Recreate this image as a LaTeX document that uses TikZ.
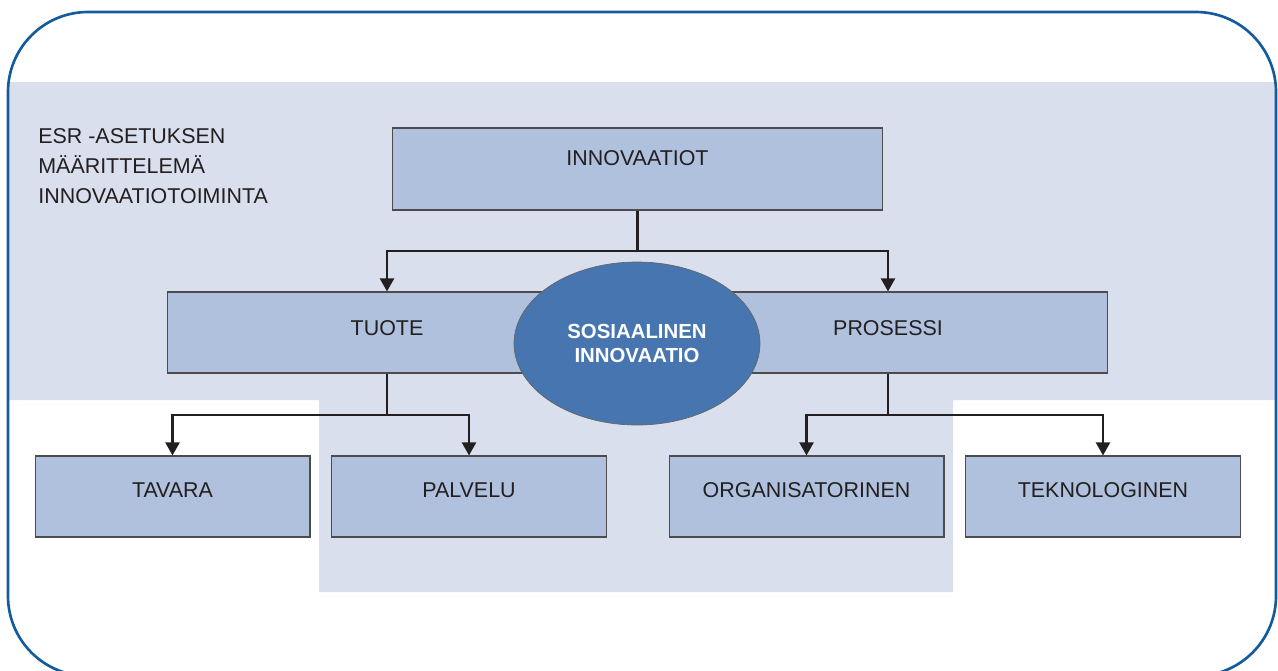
\documentclass[tikz,border=0pt]{standalone}
\usepackage{fontspec}
\setmainfont{Liberation Sans}
\usetikzlibrary{arrows.meta,positioning,shapes.geometric}
\definecolor{bandgrey}{HTML}{DADFED}
\definecolor{boxblue}{HTML}{B0C1DE}
\definecolor{ovalblue}{HTML}{4675B0}
\definecolor{framblue}{HTML}{135A9E}
\definecolor{inkdark}{HTML}{231F20}
\tikzset{
  innobox/.style={draw=black!70,fill=boxblue,line width=0.6pt,align=center,
    minimum width=5.5cm,minimum height=1.62cm,inner sep=0pt,
    font=\fontsize{12.2}{14}\selectfont,text=inkdark,text height=8.7pt,text depth=7.4pt},
  ovalnode/.style={ellipse,draw=black!60,fill=ovalblue,line width=0.4pt,align=center,
    minimum width=4.92cm,minimum height=3.26cm,inner sep=0pt,
    font=\fontsize{11.6}{14.2}\selectfont\bfseries,text=white},
  linkarrow/.style={-{Triangle[length=7.5pt,width=8pt]},line width=1.4pt,draw=inkdark},
  sidelabel/.style={font=\fontsize{12.2}{17}\selectfont,align=left,text=inkdark,
    anchor=north west,inner sep=0pt}
}
\begin{document}
\begin{tikzpicture}[x=0.02cm,y=-0.02cm]
  \useasboundingbox (0,0) rectangle (1278,670);
  % taustavyohyke
  \fill[bandgrey] (8,82) -- (1276,82) -- (1276,400) -- (953,400) -- (953,592)
    -- (319,592) -- (319,400) -- (8,400) -- cycle;
  \draw[framblue,line width=1.5pt,rounded corners=1.6cm] (8,12) rectangle (1276,676);

  \node[sidelabel] (esrlabel) at (38,128)
    {ESR -ASETUKSEN\\MÄÄRITTELEMÄ\\INNOVAATIOTOIMINTA};

  \node[innobox,minimum width=9.82cm,minimum height=1.64cm,text depth=12.5pt] (innov) at (637.5,169) {INNOVAATIOT};
  \node[innobox,minimum width=8.8cm,text depth=5pt] (tuote) at (387,332.5) {TUOTE};
  \node[innobox,minimum width=8.8cm,text depth=5pt] (prosessi) at (888,332.5) {PROSESSI};
  \node[ovalnode] (sosinno) at (637,343.5) {SOSIAALINEN\\INNOVAATIO};

  \node[innobox] (tavara) at (172.5,496.5) {TAVARA};
  \node[innobox] (palvelu) at (469,496.5) {PALVELU};
  \node[innobox] (organ) at (806.5,496.5) {ORGANISATORINEN};
  \node[innobox] (tekno) at (1103,496.5) {TEKNOLOGINEN};

  % haarat
  \coordinate (splittop) at (637.5,251);
  \coordinate (splitleft) at (387,415);
  \coordinate (splitright) at (888,415);
  \draw[line width=1.4pt,draw=inkdark] (innov.south) -- (splittop);
  \draw[linkarrow] (splittop) -| (tuote.north);
  \draw[linkarrow] (splittop) -| (prosessi.north);
  \draw[line width=1.4pt,draw=inkdark] (tuote.south) -- (splitleft);
  \draw[linkarrow] (splitleft) -| (tavara.north);
  \draw[linkarrow] (splitleft) -| (palvelu.north);
  \draw[line width=1.4pt,draw=inkdark] (prosessi.south) -- (splitright);
  \draw[linkarrow] (splitright) -| (organ.north);
  \draw[linkarrow] (splitright) -| (tekno.north);
\end{tikzpicture}
\end{document}
